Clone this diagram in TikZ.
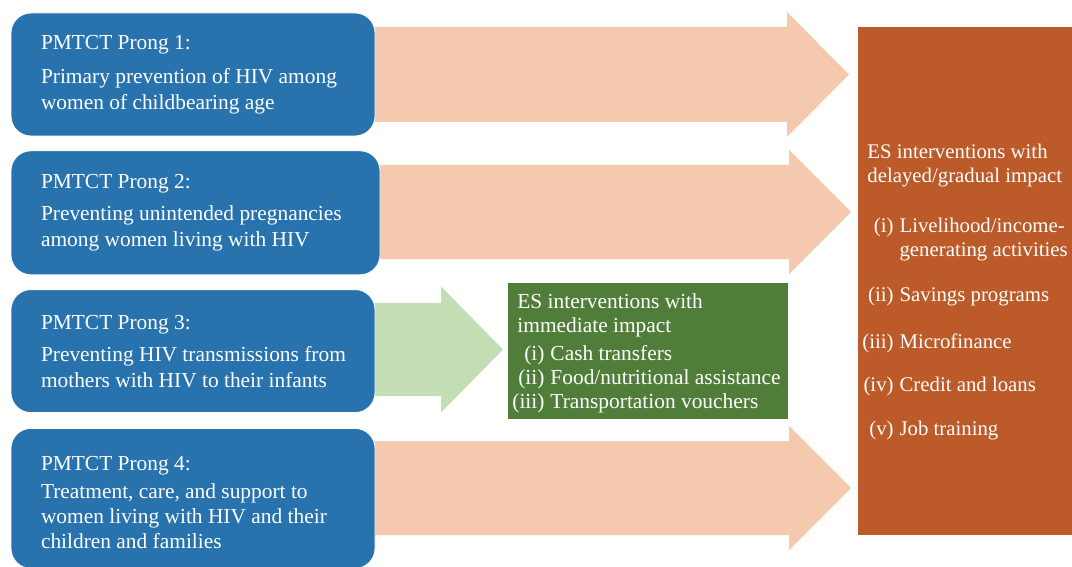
\documentclass[tikz,border=0pt]{standalone}
\usepackage{fontspec}
\setmainfont{Liberation Serif}
\usetikzlibrary{positioning, calc, backgrounds}

\definecolor{prongblue}{RGB}{40,115,174}
\definecolor{peach}{RGB}{244,201,173}
\definecolor{palegreen}{RGB}{195,221,180}
\definecolor{esgreen}{RGB}{80,126,58}
\definecolor{esorange}{RGB}{189,90,41}

% block arrow: style, source box, tip coordinate, shaft half-height, head half-height
\newcommand{\prongarrow}[5]{%
  \fill[#1] ($(#2.east |- #3)+(-10,-#4)$) -- ($(#3)+(-62,-#4)$) -- ($(#3)+(-62,-#5)$)
    -- (#3) -- ($(#3)+(-62,#5)$) -- ($(#3)+(-62,#4)$) -- ($(#2.east |- #3)+(-10,#4)$) -- cycle;}

\begin{document}
\begin{tikzpicture}[x=0.5pt, y=-0.5pt,
    prong/.style={rectangle, rounded corners=10pt, draw=white, line width=0.4pt, fill=prongblue, minimum width=182pt, minimum height=61.5pt, inner sep=0pt},
    prongtext/.style={align=left, text=white, inner sep=0pt, font=\fontsize{10.7}{13}\selectfont},
    esbox/.style={rectangle, fill=#1, inner sep=0pt},
    estext/.style={anchor=north west, text=white, inner sep=0pt, font=\fontsize{10.7}{12}\selectfont}
]
\useasboundingbox (0,0) rectangle (1072,567);

% Prongs
\node[prong] (p1) at (193,74.5) {};
\node[prong, below=7pt of p1.south west, anchor=north west, minimum width=184.5pt, minimum height=62pt] (p2) {};
\node[prong, below=7pt of p2.south west, anchor=north west] (p3) {};
\node[prong, below=7.5pt of p3, minimum height=70pt] (p4) {};

\node[prongtext, right=15pt of p1.west] (t1) {PMTCT Prong 1:\\[4pt] Primary prevention of HIV among\\ women of childbearing age};
\node[prongtext, right=15pt of p2.west] (t2) {PMTCT Prong 2:\\[3pt] Preventing unintended pregnancies\\ among women living with HIV};
\node[prongtext, right=15pt of p3.west] (t3) {PMTCT Prong 3:\\[3pt] Preventing HIV transmissions from\\ mothers with HIV to their infants};
\node[prongtext, right=15pt of p4.west, yshift=-2pt, font=\fontsize{10.7}{12.5}\selectfont] (t4) {PMTCT Prong 4:\\[1.5pt] Treatment, care, and support to\\ women living with HIV and their\\ children and families};

% ES boxes
\node[esbox=esgreen, minimum width=140pt, minimum height=68pt] (esnow) at (648,351) {};
\node[esbox=esorange, minimum width=107pt, minimum height=254pt] (eslater) at (965,281) {};

\node[estext] (esnowtext) at (512,291) {%
  \begin{tabular}{@{}r@{\hspace{3pt}}l@{}}
    \multicolumn{2}{@{}l@{}}{\hspace{2.5pt}ES interventions with}\\
    \multicolumn{2}{@{}l@{}}{\hspace{2.5pt}immediate impact}\\[2pt]
    (i) & Cash transfers\\
    (ii) & Food/nutritional assistance\\
    (iii) & Transportation vouchers
  \end{tabular}};
\node[estext, font=\fontsize{10.4}{12}\selectfont] (eslatertext) at (862,141) {%
  \begin{tabular}{@{}r@{\hspace{3pt}}l@{}}
    \multicolumn{2}{@{}l@{}}{\hspace{2.5pt}ES interventions with}\\
    \multicolumn{2}{@{}l@{}}{\hspace{2.5pt}delayed/gradual impact}\\[13pt]
    (i) & Livelihood/income-\\
        & generating activities\\[10.5pt]
    (ii) & Savings programs\\[11.5pt]
    (iii) & Microfinance\\[9.5pt]
    (iv) & Credit and loans\\[10pt]
    (v) & Job training
  \end{tabular}};

% Arrows
\coordinate (tip1) at (849,74.5);
\coordinate (tip2) at (851,212);
\coordinate (tip3) at (503,349.5);
\coordinate (tip4) at (851,488);
\begin{scope}[on background layer]
\prongarrow{peach}{p1}{tip1}{47.5}{62.5}
\prongarrow{peach}{p2}{tip2}{47}{62}
\prongarrow{palegreen}{p3}{tip3}{46.5}{63}
\prongarrow{peach}{p4}{tip4}{47}{62}
\end{scope}

\end{tikzpicture}
\end{document}
